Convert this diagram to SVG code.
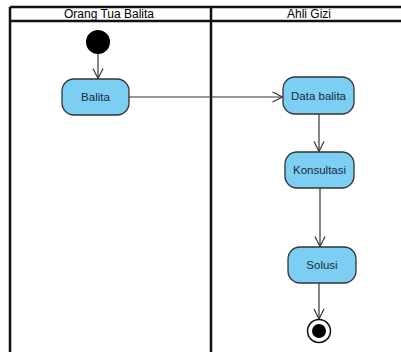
<svg xmlns="http://www.w3.org/2000/svg" width="401" height="352" viewBox="0 0 401 352">
<style>
.lane{stroke:#111;stroke-width:2.5;fill:none}
.hdr{font-family:"Liberation Sans",Arial,sans-serif;font-size:12px;fill:#000;text-anchor:middle}
.act rect{fill:#7ccff2;stroke:#333;stroke-width:1.3}
.act text{font-family:"Liberation Sans",Arial,sans-serif;font-size:11.5px;fill:#1a2a3a;text-anchor:middle}
.edge{stroke:#333;stroke-width:1.2;fill:none;marker-end:url(#arr)}
</style>
<defs>
<marker id="arr" viewBox="0 0 12 12" refX="11" refY="6" markerWidth="12" markerHeight="12" markerUnits="userSpaceOnUse" orient="auto">
<path d="M1,1 L11,6 L1,11" fill="none" stroke="#333" stroke-width="1.2"/>
</marker>
</defs>
<rect width="401" height="352" fill="#fff"/>
<g id="swimlanes">
<line class="lane" x1="10" y1="7" x2="401" y2="7"/>
<line class="lane" x1="10" y1="21" x2="401" y2="21"/>
<line class="lane" x1="10" y1="7" x2="10" y2="352"/>
<line class="lane" x1="211" y1="7" x2="211" y2="352"/>
<text class="hdr" x="109" y="18">Orang Tua Balita</text>
<text class="hdr" x="309" y="18">Ahli Gizi</text>
</g>
<g id="connectors">
<line class="edge" x1="98" y1="54" x2="98" y2="78.5"/>
<line class="edge" x1="129" y1="97" x2="282.5" y2="97"/>
<line class="edge" x1="319" y1="114" x2="319" y2="151.5"/>
<line class="edge" x1="320" y1="188" x2="320" y2="246.5"/>
<line class="edge" x1="319" y1="283" x2="319" y2="319"/>
</g>
<g id="start"><circle cx="98" cy="42" r="12" fill="#000"/></g>
<g id="balita" class="act"><rect x="62" y="79" width="67" height="36" rx="12"/><text x="95.5" y="101">Balita</text></g>
<g id="data-balita" class="act"><rect x="283" y="77" width="71" height="37" rx="12"/><text x="318.5" y="99.5">Data balita</text></g>
<g id="konsultasi" class="act"><rect x="285" y="152" width="69" height="36" rx="12"/><text x="319.5" y="174">Konsultasi</text></g>
<g id="solusi" class="act"><rect x="288" y="247" width="68" height="36" rx="12"/><text x="322" y="269">Solusi</text></g>
<g id="end"><circle cx="319" cy="331" r="11.5" fill="#fff" stroke="#111" stroke-width="1.5"/><circle cx="319" cy="331" r="7" fill="#000"/></g>
</svg>
